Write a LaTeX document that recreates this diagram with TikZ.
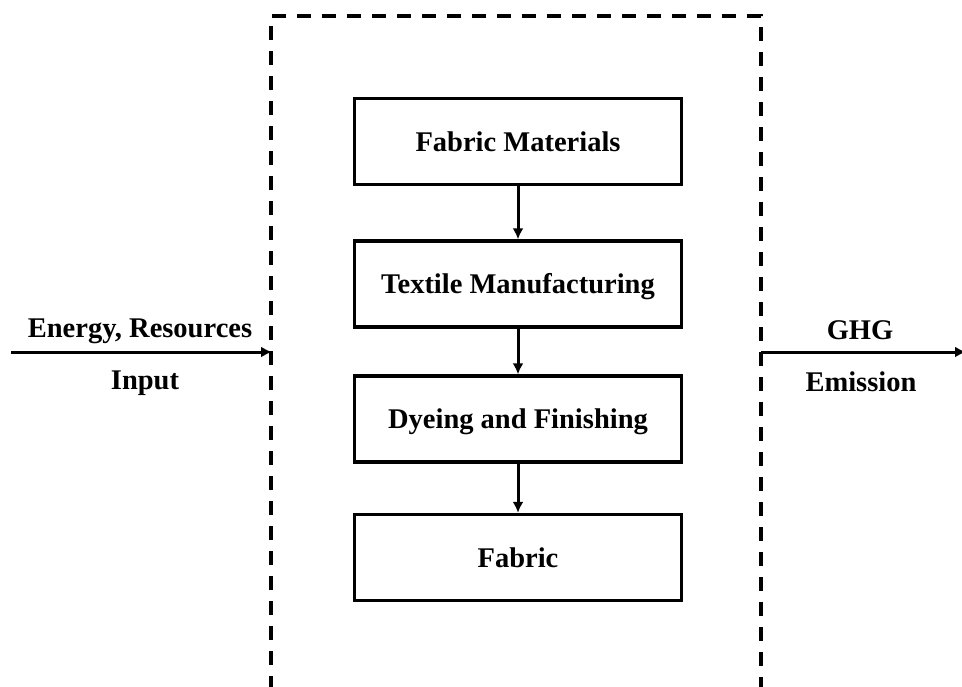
\documentclass[tikz,border=0pt]{standalone}
\usepackage{fontspec}
\setmainfont{Liberation Serif}
\usetikzlibrary{arrows.meta}
\begin{document}
\begin{tikzpicture}[x=1pt,y=-1pt,
  stagebox/.style={draw,line width=3.4pt,minimum width=327pt,minimum height=86pt,
    inner sep=0pt,text height=19pt,text depth=0pt,
    font=\fontsize{28.5}{34}\selectfont\bfseries},
  lbl/.style={inner sep=0pt,text height=19pt,text depth=0pt,
    font=\fontsize{28.5}{34}\selectfont\bfseries},
  flow/.style={line width=3pt,-{Latex[length=11pt,width=11pt]}},
  frame/.style={line width=3.4pt,dash pattern=on 14pt off 11pt}]
\useasboundingbox (0,0) rectangle (962,686);
% system boundary, open at the bottom
\coordinate (fbl) at (271,690);
\coordinate (ftl) at (271,16);
\coordinate (ftr) at (761,16);
\coordinate (fbr) at (761,690);
\draw[frame] (fbl) -- (ftl) -- (ftr) -- (fbr);
% process chain
\node[stagebox] (mat) at (518,141.5) {Fabric Materials};
\node[stagebox] (man) at (518,284) {Textile Manufacturing};
\node[stagebox] (dye) at (518,419) {Dyeing and Finishing};
\node[stagebox] (fab) at (518,557.5) {Fabric};
\draw[flow] (mat) -- (man);
\draw[flow] (man) -- (dye);
\draw[flow] (dye) -- (fab);
% input side
\coordinate (inS) at (11,352);
\coordinate (inE) at (272,352);
\draw[flow] (inS) -- (inE);
\node[lbl] (inA) at (140,328) {Energy, Resources};
\node[lbl] (inB) at (145,380) {Input};
% output side
\coordinate (outS) at (761,352);
\coordinate (outE) at (966,352);
\draw[flow] (outS) -- (outE);
\node[lbl] (outA) at (860,330) {GHG};
\node[lbl] (outB) at (861,382) {Emission};
\end{tikzpicture}
\end{document}
